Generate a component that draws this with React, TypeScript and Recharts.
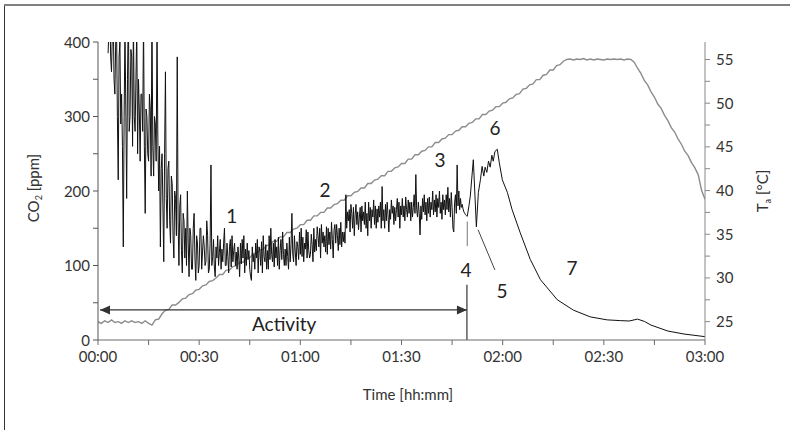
import { LineChart, Line, XAxis, YAxis, ReferenceLine, ReferenceDot } from 'recharts'

// CO2 trace, 0.25 min sampling from minute 3 to 109.5 (noisy part)
const CO2_START = 3
const CO2_STEP = 0.25
const co2Noisy = [
  385, 420, 450, 380, 360, 410, 440, 350, 330, 400,
  420, 300, 215, 380, 400, 290, 330, 260, 125, 300,
  420, 310, 190, 350, 450, 280, 300, 390, 380, 260,
  430, 300, 280, 350, 420, 250, 350, 310, 240, 330,
  330, 280, 430, 260, 170, 310, 300, 250, 240, 330,
  310, 220, 440, 260, 220, 300, 290, 240, 420, 270,
  200, 260, 125, 230, 250, 180, 105, 250, 360, 190,
  150, 230, 240, 160, 130, 220, 210, 140, 110, 200,
  190, 140, 380, 160, 100, 180, 195, 120, 90, 170,
  160, 110, 150, 100, 200, 130, 85, 150, 140, 95,
  95, 150, 170, 110, 80, 140, 130, 90, 100, 150,
  150, 95, 118, 140, 125, 100, 105, 160, 140, 90,
  95, 130, 235, 100, 112, 135, 98, 85, 125, 110,
  140, 100, 118, 135, 95, 122, 105, 130, 150, 100,
  100, 130, 112, 90, 125, 135, 98, 140, 105, 120,
  130, 100, 118, 95, 125, 110, 85, 130, 102, 135,
  110, 140, 90, 122, 100, 130, 108, 120, 95, 85,
  80, 125, 105, 115, 95, 130, 110, 135, 90, 125,
  120, 100, 132, 90, 140, 112, 105, 128, 95, 120,
  95, 140, 108, 150, 115, 105, 130, 98, 135, 110,
  125, 100, 138, 95, 120, 135, 108, 145, 115, 100,
  122, 100, 130, 112, 95, 138, 105, 128, 170, 115,
  105, 140, 118, 100, 132, 125, 108, 145, 115, 150,
  112, 138, 105, 130, 122, 148, 110, 145, 120, 110,
  115, 142, 128, 105, 150, 118, 135, 120, 152, 140,
  125, 150, 110, 155, 130, 145, 125, 140, 118, 152,
  115, 150, 128, 145, 122, 158, 135, 110, 148, 155,
  130, 155, 140, 120, 150, 128, 158, 125, 145, 132,
  145, 130, 195, 150, 172, 160, 175, 145, 182, 170,
  150, 178, 140, 168, 182, 155, 172, 148, 165, 178,
  145, 180, 160, 172, 155, 185, 150, 170, 140, 185,
  160, 178, 150, 175, 165, 188, 155, 180, 150, 176,
  158, 180, 165, 185, 150, 206, 160, 175, 150, 182,
  160, 185, 168, 145, 175, 162, 188, 170, 180, 155,
  178, 160, 175, 190, 165, 185, 150, 180, 168, 190,
  165, 180, 160, 192, 175, 165, 188, 170, 185, 160,
  185, 165, 178, 195, 170, 222, 175, 165, 185, 170,
  141, 180, 162, 190, 172, 195, 168, 185, 160, 190,
  170, 192, 165, 185, 175, 200, 168, 188, 172, 195,
  165, 190, 178, 200, 170, 185, 162, 195, 175, 188,
  168, 195, 175, 205, 172, 190, 165, 198, 178, 150,
  145, 185, 195, 170, 235, 180, 200, 175, 190, 178,
  182, 176, 172, 170, 168, 167, 166,
]
// after activity stops: [minute, ppm]
const co2Tail: [number, number][] = [
  [110, 180], [110.4, 193], [111.3, 242], [112.2, 152], [112.8, 198], [113.4, 215],
  [113.9, 233], [114.4, 220], [114.8, 232], [115.3, 225], [115.8, 240], [116.3, 232],
  [116.8, 248], [117.2, 240], [117.7, 253], [118.4, 256], [119, 238], [119.9, 215],
  [121.4, 198], [122.8, 175], [125.2, 144], [128.2, 108], [131.2, 81], [136.2, 54],
  [141, 40], [146, 31], [151, 27], [155, 26], [157.5, 25.5], [160, 28], [162, 25],
  [164, 20], [169, 12], [173.8, 8], [180, 4.5],
]

// air temperature, one reading per minute, 0..180
const tempValues = [
  25.0, 24.8, 25.1, 24.9, 25.2, 24.9, 25.0, 24.8, 25.1, 24.9,
  25.1, 24.9, 25.0, 24.8, 25.1, 24.8, 24.6, 25.2, 25.3, 25.9,
  26.3, 26.4, 26.9, 26.9, 27.2, 27.6, 27.7, 28.1, 28.2, 28.6,
  28.7, 29.1, 29.2, 29.6, 29.7, 30.0, 30.4, 30.4, 30.9, 30.9,
  31.3, 31.4, 31.8, 31.8, 32.3, 32.3, 32.8, 32.8, 33.2, 33.3,
  33.7, 33.8, 34.2, 34.2, 34.7, 34.7, 35.2, 35.2, 35.6, 35.7,
  36.1, 36.1, 36.6, 36.6, 37.1, 37.1, 37.5, 37.5, 38.0, 38.0,
  38.4, 38.5, 38.9, 38.9, 39.4, 39.4, 39.8, 39.9, 40.3, 40.3,
  40.8, 40.8, 41.2, 41.3, 41.7, 41.7, 42.2, 42.2, 42.6, 42.7,
  43.1, 43.1, 43.6, 43.6, 44.1, 44.1, 44.5, 44.6, 45.0, 45.0,
  45.5, 45.5, 45.9, 46.0, 46.4, 46.4, 46.8, 46.9, 47.3, 47.3,
  47.7, 47.8, 48.2, 48.2, 48.7, 48.7, 49.1, 49.2, 49.6, 49.6,
  50.0, 50.1, 50.5, 50.6, 51.0, 51.1, 51.6, 51.7, 52.1, 52.2,
  52.7, 52.7, 53.2, 53.3, 53.8, 53.8, 54.3, 54.4, 54.8, 55.0,
  55.05, 54.95, 55.05, 55.0, 55.1, 54.95, 55.05, 54.95, 55.05, 55.0,
  54.95, 55.05, 55.0, 55.05, 55.0, 55.05, 54.95, 55.05, 55.0, 54.7,
  54.0, 53.4, 52.6, 52.1, 51.3, 50.7, 49.9, 49.4, 48.6, 48.0,
  47.2, 46.7, 45.9, 45.3, 44.5, 44.0, 43.2, 42.6, 41.8, 40.0,
  39.0,
]

const timeTicks = [0, 15, 30, 45, 60, 75, 90, 105, 120, 135, 150, 165, 180]
const co2Ticks = [0, 50, 100, 150, 200, 250, 300, 350, 400]
const tempTicks = [25, 27.5, 30, 32.5, 35, 37.5, 40, 42.5, 45, 47.5, 50, 52.5, 55]

// annotations, in data units (minutes, ppm)
const activityArrow = [{ x: 0.6, y: 40.4 }, { x: 109.4, y: 40.4 }]
const stopLine = [{ x: 109.4, y: 0 }, { x: 109.4, y: 74 }]
const stopMarker = [{ x: 109.5, y: 126 }, { x: 109.5, y: 159 }]
const leader5 = [{ x: 112.7, y: 148 }, { x: 117.7, y: 94 }]
const phaseLabels = [
  { text: '1', x: 39.7, y: 166 },
  { text: '2', x: 67.3, y: 201 },
  { text: '3', x: 101.4, y: 241 },
  { text: '4', x: 109.1, y: 94 },
  { text: '5', x: 119.8, y: 65 },
  { text: '6', x: 117.7, y: 284 },
  { text: '7', x: 140.6, y: 97 },
]

const co2Data = co2Noisy
  .map((v, i) => ({ t: CO2_START + i * CO2_STEP, co2: v }))
  .concat(co2Tail.map(([t, v]) => ({ t, co2: v })))
const tempData = tempValues.map((v, i) => ({ t: i, temp: v }))

const FONT = 'Lato, "Open Sans", sans-serif'
const INK = '#333'
const AXIS = '#6a6a6a'

const hhmm = (m: number) => {
  const h = Math.floor(m / 60)
  const mm = m % 60
  return `${String(h).padStart(2, '0')}:${String(mm).padStart(2, '0')}`
}

const TimeTick = ({ x, y, payload }: any) =>
  payload.value % 30 === 0 ? (
    <text x={x} y={y} dy={15} textAnchor="middle" fontSize={15} fontFamily={FONT} fill={INK}>
      {hhmm(payload.value)}
    </text>
  ) : <g />

const Co2Tick = ({ x, y, payload }: any) =>
  payload.value % 100 === 0 ? (
    <text x={x} y={y} dy={5.5} textAnchor="end" fontSize={15} fontFamily={FONT} fill={INK}>
      {payload.value}
    </text>
  ) : <g />

const TempTick = ({ x, y, payload }: any) =>
  payload.value % 5 === 0 ? (
    <text x={x} y={y} dy={5.5} textAnchor="start" fontSize={15} fontFamily={FONT} fill={INK}>
      {payload.value}
    </text>
  ) : <g />

const DoubleArrow = ({ x1, y1, x2, y2 }: any) => (
  <g>
    <line x1={x1} y1={y1} x2={x2} y2={y2} stroke="#333" strokeWidth={1.2} />
    <polygon points={`${x1},${y1} ${x1 + 10},${y1 - 4.5} ${x1 + 10},${y1 + 4.5}`} fill="#333" />
    <polygon points={`${x2},${y2} ${x2 - 10},${y2 - 4.5} ${x2 - 10},${y2 + 4.5}`} fill="#333" />
  </g>
)

const labelShape = (text: string, size: number) => ({ cx, cy }: any) => (
  <text x={cx} y={cy} dy={size * 0.36} textAnchor="middle" fontSize={size} fontFamily={FONT} fill="#222">
    {text}
  </text>
)

export default function App() {
  return (
    <div style={{ position: 'absolute', left: 0, top: 0, width: 790, height: 430, background: '#fff' }}>
      <LineChart width={790} height={430} margin={{ top: 42, right: 25, bottom: 60, left: 38 }}>
        <XAxis
          dataKey="t"
          type="number"
          domain={[0, 180]}
          ticks={timeTicks}
          tick={TimeTick}
          tickSize={5}
          interval={0}
          height={30}
          axisLine={{ stroke: AXIS }}
          tickLine={{ stroke: AXIS }}
          allowDataOverflow
        />
        <YAxis
          yAxisId="co2"
          domain={[0, 400]}
          ticks={co2Ticks}
          tick={Co2Tick}
          tickSize={5}
          tickMargin={3}
          interval={0}
          width={60}
          axisLine={{ stroke: '#555' }}
          tickLine={{ stroke: '#555' }}
          allowDataOverflow
        />
        <YAxis
          yAxisId="temp"
          orientation="right"
          domain={[22.9, 57]}
          ticks={tempTicks}
          tick={TempTick}
          tickSize={5}
          tickMargin={6}
          interval={0}
          width={60}
          axisLine={{ stroke: '#888' }}
          tickLine={{ stroke: '#888' }}
          allowDataOverflow
        />
        <Line
          yAxisId="temp"
          data={tempData}
          dataKey="temp"
          stroke="#8c8c8c"
          strokeWidth={1.4}
          dot={false}
          isAnimationActive={false}
        />
        <Line
          yAxisId="co2"
          data={co2Data}
          dataKey="co2"
          stroke="#111"
          strokeWidth={1}
          dot={false}
          isAnimationActive={false}
        />
        <ReferenceLine yAxisId="co2" segment={activityArrow} shape={DoubleArrow} />
        <ReferenceLine yAxisId="co2" segment={stopLine} stroke="#333" strokeWidth={1.2} />
        <ReferenceLine yAxisId="co2" segment={stopMarker} stroke="#777" strokeWidth={1} />
        <ReferenceLine yAxisId="co2" segment={leader5} stroke="#444" strokeWidth={1} />
        {phaseLabels.map((l) => (
          <ReferenceDot key={l.text} yAxisId="co2" x={l.x} y={l.y} shape={labelShape(l.text, 19)} />
        ))}
        <ReferenceDot yAxisId="co2" x={55.2} y={21.5} shape={labelShape('Activity', 19)} />
      </LineChart>
      <svg width={790} height={430} style={{ position: 'absolute', left: 0, top: 0, pointerEvents: 'none' }}>
        <line x1={4.5} y1={5} x2={4.5} y2={430} stroke="#333" strokeWidth={1} />
        <line x1={4} y1={5} x2={790} y2={5} stroke="#808080" strokeWidth={2} />
        <text transform="translate(39,188) rotate(-90)" textAnchor="middle" fontSize={15} fontFamily={FONT} fill={INK}>
          CO<tspan fontSize={9} dy={3}>2</tspan><tspan dy={-3}> [ppm]</tspan>
        </text>
        <text transform="translate(768,191) rotate(-90)" textAnchor="middle" fontSize={15} fontFamily={FONT} fill={INK}>
          T<tspan fontSize={9} dy={3}>a</tspan><tspan dy={-3}> [°C]</tspan>
        </text>
        <text x={408} y={400} textAnchor="middle" fontSize={15} fontFamily={FONT} fill={INK}>
          Time [hh:mm]
        </text>
      </svg>
    </div>
  )
}
